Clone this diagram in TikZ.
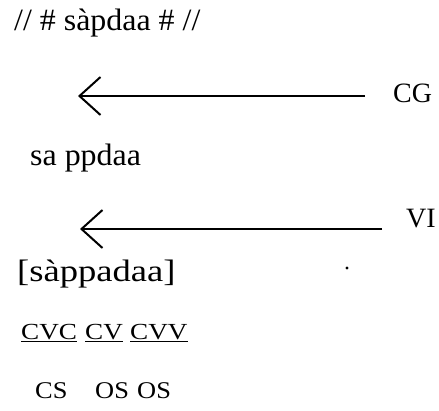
\documentclass[tikz,border=0pt]{standalone}
\usepackage{fontspec}
\setmainfont{Liberation Serif}
\newfontfamily\lowf[FakeStretch=1.03]{Liberation Serif}
\newfontfamily\lowfw[FakeStretch=1.18]{Liberation Serif}
\newfontfamily\capf[FakeStretch=1.18]{Liberation Serif}
\newfontfamily\caps[FakeStretch=1.1]{Liberation Serif}
\usetikzlibrary{arrows.meta}
\begin{document}
\begin{tikzpicture}[x=1pt,y=-1pt,
  lbl/.style={inner sep=0pt, anchor=base west},
  lowtxt/.style={lbl, font=\lowf\fontsize{31}{37}\selectfont},
  lowwide/.style={lbl, font=\lowfw\fontsize{31}{37}\selectfont},
  rulename/.style={lbl, font=\fontsize{28}{34}\selectfont},
  syll/.style={lbl, font=\capf\fontsize{23}{28}\selectfont},
  stype/.style={lbl, font=\caps\fontsize{24}{29}\selectfont},
  rulearrow/.style={line width=1.4pt,
    -{Straight Barb[length=21pt,width=38pt,line width=2pt]}}]
\useasboundingbox (0,0) rectangle (439,410);
% lines of the derivation
\node[lowtxt] (under) at (14,30) {// \# sàpdaa \# //};
\node[rulename] (cg) at (393,102) {CG};
\node[lowtxt] (inter) at (30,165) {sa ppdaa};
\node[rulename] (vi) at (406,227) {VI};
\node[lowwide] (surf) at (17,281) {[sàppadaa]};
% arrows
\coordinate (a1s) at (365,96);
\coordinate (a1e) at (78,96);
\coordinate (a2s) at (382,229);
\coordinate (a2e) at (80,229);
\draw[rulearrow] (a1s) -- (a1e);
\draw[rulearrow] (a2s) -- (a2e);
% stray dot
\fill (347,268) circle (1.6pt);
% syllables
\node[syll] (s1) at (21,339) {\underline{CVC}};
\node[syll] (s2) at (85,339) {\underline{CV}};
\node[syll] (s3) at (130,339) {\underline{CVV}};
% syllable types
\node[stype] (t1) at (35,398) {CS};
\node[stype] (t2) at (95,398) {OS};
\node[stype] (t3) at (137,398) {OS};
\end{tikzpicture}
\end{document}
